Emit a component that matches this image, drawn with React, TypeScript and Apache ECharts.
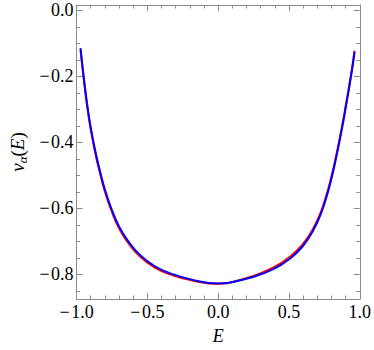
import React, { useEffect, useRef } from 'react';
import * as echarts from 'echarts';

const E_BLUE = [-0.972, -0.95, -0.925, -0.9, -0.867, -0.84, -0.8, -0.755, -0.7, -0.635, -0.555, -0.45, -0.333, -0.18, 0, 0.18, 0.333, 0.45, 0.555, 0.635, 0.7, 0.755, 0.8, 0.84, 0.867, 0.889, 0.9, 0.925, 0.95, 0.963];
const V_BLUE = [-0.115, -0.2, -0.285, -0.355, -0.428, -0.478, -0.543, -0.6, -0.655, -0.7, -0.74, -0.775, -0.798, -0.817, -0.828, -0.816, -0.795, -0.77, -0.735, -0.693, -0.643, -0.58, -0.51, -0.433, -0.375, -0.325, -0.297, -0.235, -0.168, -0.126];
const E_RED = [-0.972, -0.95, -0.925, -0.9, -0.867, -0.84, -0.8, -0.755, -0.7, -0.635, -0.555, -0.45, -0.333, -0.18, 0, 0.18, 0.333, 0.45, 0.555, 0.635, 0.7, 0.755, 0.8, 0.84, 0.867, 0.889, 0.9, 0.925, 0.95, 0.963];
const V_RED = [-0.12, -0.205, -0.291, -0.361, -0.434, -0.484, -0.549, -0.606, -0.661, -0.705, -0.745, -0.779, -0.801, -0.819, -0.829, -0.814, -0.791, -0.765, -0.729, -0.687, -0.637, -0.574, -0.504, -0.427, -0.369, -0.319, -0.291, -0.229, -0.163, -0.122];

const X_MAJOR = [-1, -0.5, 0, 0.5, 1];
const X_MINOR = [-0.9, -0.8, -0.7, -0.6, -0.4, -0.3, -0.2, -0.1, 0.1, 0.2, 0.3, 0.4, 0.6, 0.7, 0.8, 0.9];
const Y_MAJOR = [-0.8, -0.6, -0.4, -0.2, 0];
const Y_MINOR = [-0.85, -0.75, -0.7, -0.65, -0.55, -0.5, -0.45, -0.35, -0.3, -0.25, -0.15, -0.1, -0.05];

const FONT = 'Liberation Serif';
const FRAME = '#8a8a8a';
const fmt = (v: number) => v.toFixed(1).replace('-', '\u2212\u200A');

function makeAxis(kind: 'x' | 'y', position: string, major: boolean, labels: boolean, extra: any = {}) {
  const isX = kind === 'x';
  return {
    type: 'value',
    position,
    min: isX ? -1 : -0.875,
    max: isX ? 1 : 0.016,
    axisLine: { show: major, onZero: false, lineStyle: { color: FRAME, width: 1 } },
    axisTick: {
      show: true,
      inside: true,
      length: major ? 6 : 3.5,
      customValues: major ? (isX ? X_MAJOR : Y_MAJOR) : (isX ? X_MINOR : Y_MINOR),
      lineStyle: { color: FRAME, width: 1 },
    },
    axisLabel: {
      show: labels,
      customValues: isX ? X_MAJOR : Y_MAJOR,
      formatter: (v: number) => fmt(v),
      color: '#000',
      fontFamily: FONT,
      fontSize: 18,
      margin: isX ? 4 : 3,
    },
    splitLine: { show: false },
    minorTick: { show: false },
    ...extra,
  };
}

export default function App() {
  const ref = useRef<HTMLDivElement>(null);
  useEffect(() => {
    if (!ref.current) return;
    const chart = echarts.init(ref.current, undefined, { renderer: 'svg' });
    const blue = E_BLUE.map((e, i) => [e, V_BLUE[i]]);
    const red = E_RED.map((e, i) => [e, V_RED[i]]);
    chart.setOption({
      animation: false,
      backgroundColor: '#fff',
      grid: { left: 63, top: 5, width: 299, height: 297 },
      xAxis: [
        makeAxis('x', 'bottom', true, true, {
          name: 'E',
          nameLocation: 'middle',
          nameGap: 28,
          nameTextStyle: { fontFamily: FONT, fontStyle: 'italic', fontSize: 18, color: '#000' },
        }),
        makeAxis('x', 'bottom', false, false),
        makeAxis('x', 'top', true, false),
        makeAxis('x', 'top', false, false),
      ],
      yAxis: [
        makeAxis('y', 'left', true, true, {
          name: '{v|v}{s|α}{p|(}{v|E}{p|)}',
          nameLocation: 'middle',
          nameRotate: 90,
          nameGap: 45,
          nameTextStyle: {
            color: '#000',
            rich: {
              v: { fontFamily: FONT, fontStyle: 'italic', fontSize: 19, color: '#000' },
              s: { fontFamily: FONT, fontStyle: 'italic', fontSize: 13, color: '#000', padding: [9, 0, 0, 0] },
              p: { fontFamily: FONT, fontSize: 19, color: '#000' },
            },
          },
        }),
        makeAxis('y', 'left', false, false),
        makeAxis('y', 'right', true, false),
        makeAxis('y', 'right', false, false),
      ],
      series: [
        {
          type: 'line',
          data: red,
          xAxisIndex: 0,
          yAxisIndex: 0,
          showSymbol: false,
          smooth: 0.5,
          lineStyle: { color: '#ff0000', width: 2 },
        },
        {
          type: 'line',
          data: blue,
          xAxisIndex: 0,
          yAxisIndex: 0,
          showSymbol: false,
          smooth: 0.5,
          lineStyle: { color: '#0000ff', width: 2 },
        },
      ],
    });
    return () => chart.dispose();
  }, []);
  return <div ref={ref} style={{ position: 'fixed', left: 0, top: 0, width: 374, height: 350 }} />;
}
